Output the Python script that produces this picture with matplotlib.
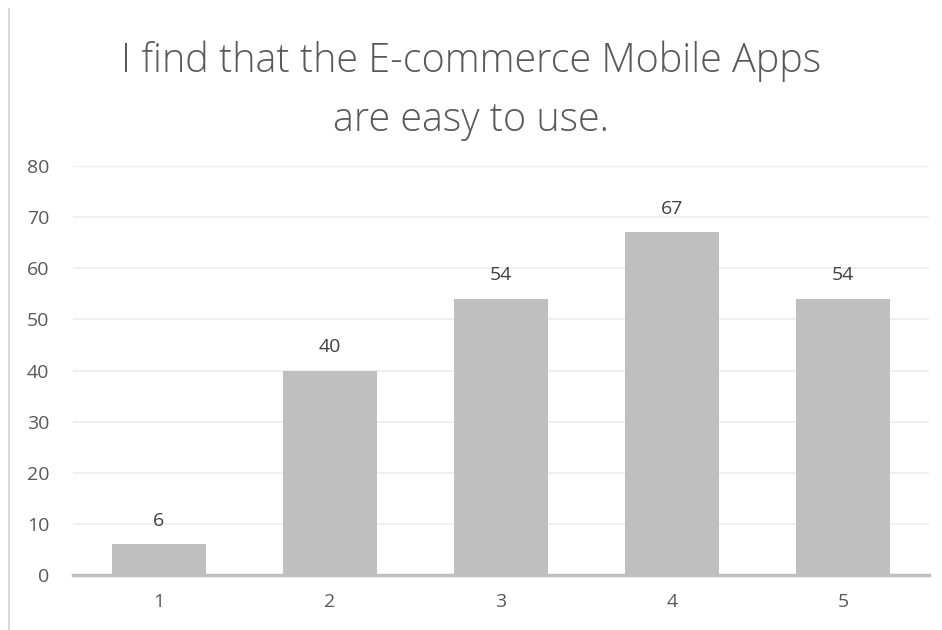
import matplotlib.pyplot as plt
from matplotlib.lines import Line2D

# ---------------------------
# Survey responses
# ---------------------------
categories = ["1", "2", "3", "4", "5"]
counts = [6, 40, 54, 67, 54]
y_ticks = [0, 10, 20, 30, 40, 50, 60, 70, 80]

title = "I find that the E-commerce Mobile Apps\nare easy to use."

plt.rcParams['font.family'] = ['Open Sans', 'DejaVu Sans']

fig = plt.figure(figsize=(9.42, 6.30), dpi=100)
ax = fig.add_axes([0.0775, 0.0873, 0.9085, 0.6492])

x = range(len(categories))
bars = ax.bar(x, counts, width=0.55, color='#bfbfbf', zorder=3)

for b, v in zip(bars, counts):
    ax.annotate(str(v), (b.get_x() + b.get_width() / 2, v),
                xytext=(0, 17), textcoords='offset points',
                ha='center', va='center', fontsize=14, color='#404040')

ax.set_xlim(-0.5, len(categories) - 0.5)
ax.set_ylim(0, 80)
ax.set_xticks(list(x))
ax.set_xticklabels(categories)
ax.set_yticks(y_ticks)
ax.tick_params(axis='both', length=0, labelsize=14, labelcolor='#595959')
ax.tick_params(axis='y', pad=17)
ax.tick_params(axis='x', pad=13)

ax.grid(axis='y', color='#ececec', linewidth=1.2, zorder=0)
for side in ['top', 'right', 'left']:
    ax.spines[side].set_visible(False)
ax.spines['bottom'].set_color('#bfbfbf')
ax.spines['bottom'].set_linewidth(2.5)
ax.spines['bottom'].set_zorder(4)

fig.text(0.5, 0.856, title, ha='center', va='center', fontsize=28.5,
         fontweight='light', color='#595959', linespacing=1.6)

# thin frame edge on the left
fig.add_artist(Line2D([0.0095, 0.0095], [0.0, 0.985], transform=fig.transFigure,
                      color='#d9d9d9', linewidth=1.5))

fig.savefig("out.png", dpi=100)
